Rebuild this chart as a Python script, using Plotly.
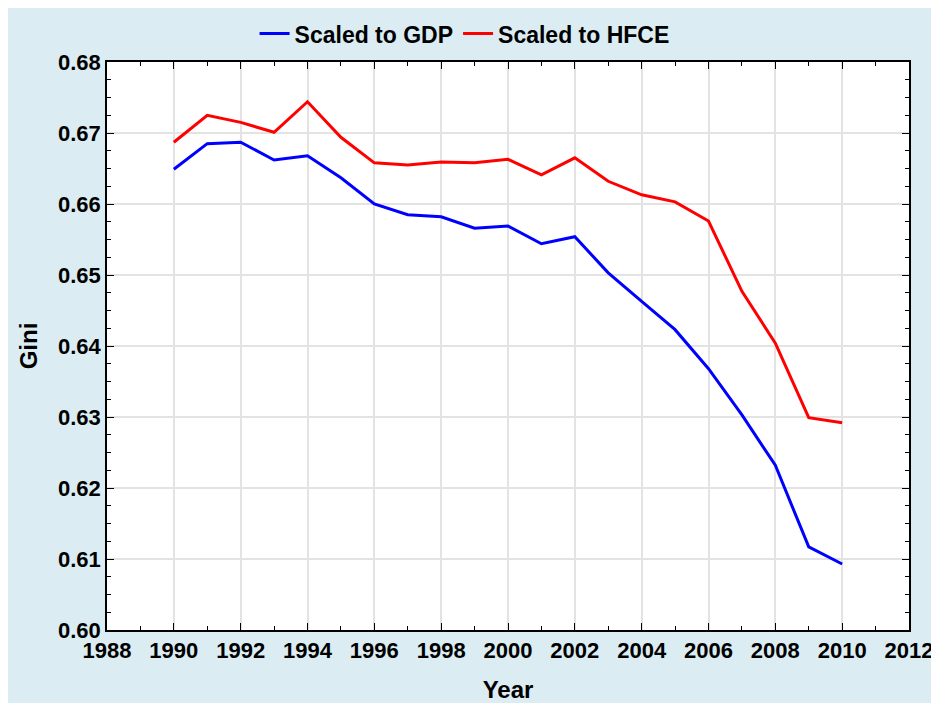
import plotly.graph_objects as go

years = list(range(1990, 2011))
gini_gdp = [0.6649, 0.6685, 0.6687, 0.6662, 0.6668, 0.6637, 0.6600, 0.6585, 0.6582, 0.6566,
            0.6569, 0.6544, 0.6554, 0.6503, 0.6463, 0.6423, 0.6368, 0.6303, 0.6232, 0.6117, 0.6093]
gini_hfce = [0.6687, 0.6725, 0.6715, 0.6701, 0.6744, 0.6694, 0.6658, 0.6655, 0.6659, 0.6658,
             0.6663, 0.6641, 0.6665, 0.6632, 0.6613, 0.6603, 0.6576, 0.6477, 0.6404, 0.6299, 0.6292]
x_ticks = list(range(1988, 2013, 2))
y_ticks = [0.60, 0.61, 0.62, 0.63, 0.64, 0.65, 0.66, 0.67, 0.68]

FONT = "Liberation Sans, Arial, sans-serif"
BG = "#DBEDF3"

fig = go.Figure()
fig.add_trace(go.Scatter(x=years, y=gini_gdp, mode="lines", name="Scaled to GDP",
                         line=dict(color="#0000FF", width=3)))
fig.add_trace(go.Scatter(x=years, y=gini_hfce, mode="lines", name="Scaled to HFCE",
                         line=dict(color="#FF0000", width=3)))

axis_common = dict(
    showline=True, linecolor="black", linewidth=1.5, mirror="ticks",
    ticks="inside", ticklen=7, tickwidth=1.2, tickcolor="black",
    showgrid=True, gridcolor="#E3E3E3", gridwidth=1.5, zeroline=False,
    tickfont=dict(family=FONT, size=22, color="black", weight="bold"),
)

fig.update_xaxes(range=[1988, 2012], tickvals=x_ticks, ticktext=[str(v) for v in x_ticks],
                 minor=dict(dtick=1, tick0=1988, ticks="inside", ticklen=4, tickcolor="black", showgrid=False),
                 title=dict(text="<b>Year</b>", font=dict(family=FONT, size=24, color="black"), standoff=19),
                 **axis_common)
fig.update_yaxes(range=[0.60, 0.68], tickvals=y_ticks, ticktext=[f"{v:.2f}" for v in y_ticks],
                 minor=dict(dtick=0.0025, tick0=0.60, ticks="inside", ticklen=4, tickcolor="black", showgrid=False),
                 title=dict(text="<b>Gini</b>", font=dict(family=FONT, size=24, color="black"), standoff=14),
                 **axis_common)

fig.update_layout(
    width=931, height=695,
    margin=dict(l=99, r=30, t=54, b=73, autoexpand=False),
    paper_bgcolor=BG, plot_bgcolor="white",
    legend=dict(orientation="h", x=0.184, xanchor="left", y=1.05, yanchor="middle",
                font=dict(family=FONT, size=23, color="black", weight="bold"),
                bgcolor="rgba(0,0,0,0)"),
)

fig.write_html("out.html")
